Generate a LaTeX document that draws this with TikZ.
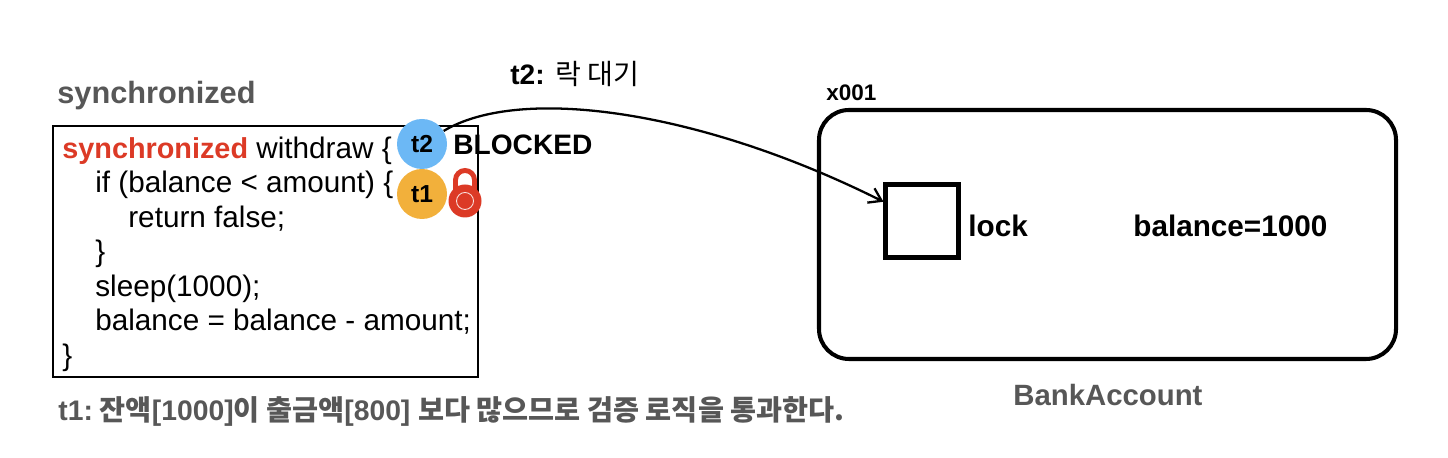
\documentclass[tikz,border=0pt]{standalone}
\usepackage{fontspec}
\setmainfont{Liberation Sans}
\newfontfamily\krfont{Noto Sans CJK KR}
\usepackage{xcolor}
\usetikzlibrary{arrows.meta,positioning}
\definecolor{lockred}{HTML}{DC3A26}
\definecolor{titlegray}{HTML}{575757}
\definecolor{threadblue}{HTML}{6CB8F5}
\definecolor{threadyellow}{HTML}{F2B03B}

\begin{document}
\begin{tikzpicture}[
    x=1cm,y=1cm,
    thr/.style    = {circle,inner sep=0pt,minimum size=1.0cm,font=\fontsize{14}{16}\selectfont\bfseries},
    code/.style   = {rectangle,draw=black,line width=0.9pt,anchor=north west,minimum width=8.5cm,
                     minimum height=5.02cm},
    lab/.style    = {anchor=west,inner sep=0pt,font=\fontsize{16.9}{18}\selectfont\bfseries},
    ttl/.style    = {anchor=west,inner sep=0pt,text=titlegray,font=\fontsize{16.7}{18}\selectfont\bfseries},
    fl/.style     = {-{Straight Barb[length=2.4mm,width=3.2mm]},black,line width=1.3pt},
  ]
  \useasboundingbox (0,0) rectangle (28.96,9.16);

  \node[ttl,font=\fontsize{17.5}{18}\selectfont\bfseries] (title) at (1.14,7.25) {synchronized};

  \node[code] (codebox) at (1.04,6.66) {};
  \node[anchor=north west,inner sep=0pt,align=left,font=\fontsize{16.9}{19.6}\selectfont] (codetext) at (1.24,6.43)
    {{\fontsize{16.4}{19.6}\selectfont\bfseries\textcolor{lockred}{synchronized}} withdraw \{\\
     \hspace*{0.66cm}if (balance < amount) \{\\
     \hspace*{1.32cm}return false;\\
     \hspace*{0.66cm}\}\\
     \hspace*{0.66cm}sleep(1000);\\
     \hspace*{0.66cm}balance = balance - amount;\\
     \}};

  \node[thr,fill=threadblue]   (t2) at (8.44,6.28) {t2};
  \node[thr,fill=threadyellow] (t1) at (8.44,5.28) {t1};
  \node[lab,font=\fontsize{16}{18}\selectfont\bfseries] (blocked) at (9.06,6.26) {BLOCKED};

  % lock icon
  \draw[lockred,line width=2.8pt] (9.11,5.2) -- (9.11,5.56) arc (180:0:0.19) -- (9.49,5.2);
  \node[circle,fill=lockred,inner sep=0pt,minimum size=0.66cm] (lockicon) at (9.30,5.14) {};
  \node[circle,draw=white!85!lockred,line width=0.5pt,inner sep=0pt,minimum size=0.34cm] (lockring) at (lockicon) {};

  \node[draw=black,line width=2.3pt,rounded corners=0.6cm,minimum width=11.54cm,minimum height=4.98cm,
        inner sep=0pt] (account) at (22.15,4.47) {};
  \node[draw=black,line width=2.3pt,minimum size=1.46cm,inner sep=0pt] (lockbox) at (18.44,4.74) {};

  \node[lab,font=\fontsize{12.8}{14}\selectfont\bfseries] (addr) at (16.52,7.3) {x001};
  \node[lab] (locklab) at (19.36,4.64) {lock};
  \node[lab] (ballab) at (22.66,4.64) {balance=1000};
  \node[ttl] (bank) at (20.26,1.26) {BankAccount};
  \node[lab,font=\fontsize{16}{18}\selectfont\bfseries] (wait) at (10.2,7.68) {t2: {\krfont\mdseries 락 대기}};
  \node[ttl,font=\fontsize{16.1}{18}\selectfont\bfseries] (note) at (1.16,0.94)
    {t1:\hspace{0.14cm}{\krfont 잔액}[1000]{\krfont 이 출금액}[800] {\krfont 보다 많으므로 검증 로직을 통과한다.}};

  \draw[fl] (t2) .. controls (10.4,7.46) and (14.0,6.96) .. (lockbox);

\end{tikzpicture}
\end{document}
